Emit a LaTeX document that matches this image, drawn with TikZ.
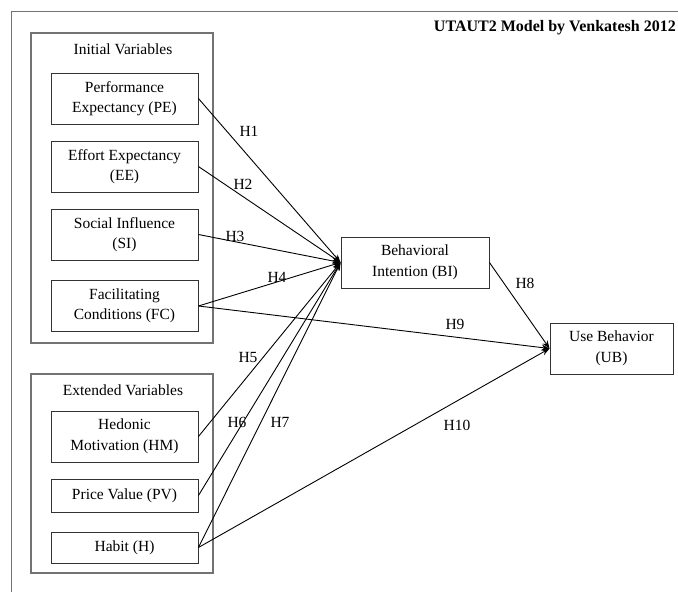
\documentclass[tikz,border=0pt]{standalone}
\usepackage{fontspec}
\setmainfont{Liberation Serif}
\usetikzlibrary{arrows.meta}
\begin{document}
\begin{tikzpicture}[x=1pt,y=-1pt,
 box/.style={draw=black!80, line width=0.9pt, minimum width=147pt, minimum height=51pt, inner sep=0pt, align=center, font=\fontsize{15.5}{20.5}\selectfont},
 grp/.style={draw=black!55, line width=1.4pt},
 gtitle/.style={inner sep=0pt, font=\fontsize{15.5}{18}\selectfont},
 lbl/.style={font=\fontsize{15.5}{18}\selectfont, inner sep=0pt},
 arr/.style={-{Stealth[length=8pt,width=6pt]}, line width=0.9pt}]
\useasboundingbox (0,0) rectangle (678,592);
% outer frame (partial)
\draw[black!55, line width=1pt] (678,11) -- (11,11) -- (11,592);
\node[anchor=east, inner sep=0pt, font=\bfseries\fontsize{16}{18}\selectfont] (title) at (676,28) {UTAUT2 Model by Venkatesh 2012};
% groups
\draw[grp] (31,33) rectangle (213,343);
\draw[grp] (31,374) rectangle (213,573);
\node[gtitle] (gi) at (123,49) {Initial Variables};
\node[gtitle] (ge) at (123,390) {Extended Variables};
% boxes
\node[box] (pe) at (124.5,98.5) {Performance\\Expectancy (PE)};
\node[box] (ee) at (124.5,166.5) {Effort Expectancy\\(EE)};
\node[box] (si) at (124.5,234.5) {Social Influence\\(SI)};
\node[box] (fc) at (124.5,306) {Facilitating\\Conditions (FC)};
\node[box] (hm) at (124.5,436.5) {Hedonic\\Motivation (HM)};
\node[box, minimum height=33pt] (pv) at (124.5,495.5) {Price Value (PV)};
\node[box, minimum height=31pt] (hb) at (124.5,547.5) {Habit (H)};
\node[box, minimum width=148pt] (bi) at (415,262.5) {Behavioral\\Intention (BI)};
\node[box, minimum width=123pt] (ub) at (611.5,348.5) {Use Behavior\\(UB)};
% connectors
\draw[arr] (pe.east) -- (bi.west);
\draw[arr] (ee.east) -- (bi.west);
\draw[arr] (si.east) -- (bi.west);
\draw[arr] (fc.east) -- (bi.west);
\draw[arr] (hm.east) -- (bi.west);
\draw[arr] (pv.east) -- (bi.west);
\draw[arr] (hb.east) -- (bi.west);
\draw[arr] (bi.east) -- (ub.west);
\draw[arr] (fc.east) -- (ub.west);
\draw[arr] (hb.east) -- (ub.west);
% labels
\node[lbl] (h1) at (249,131) {H1};
\node[lbl] (h2) at (243,184) {H2};
\node[lbl] (h3) at (235,236) {H3};
\node[lbl] (h4) at (277,277) {H4};
\node[lbl] (h5) at (248,357) {H5};
\node[lbl] (h6) at (237,422) {H6};
\node[lbl] (h7) at (280,422) {H7};
\node[lbl] (h8) at (525,283) {H8};
\node[lbl] (h9) at (455,324) {H9};
\node[lbl] (h10) at (457,425) {H10};
\end{tikzpicture}
\end{document}
